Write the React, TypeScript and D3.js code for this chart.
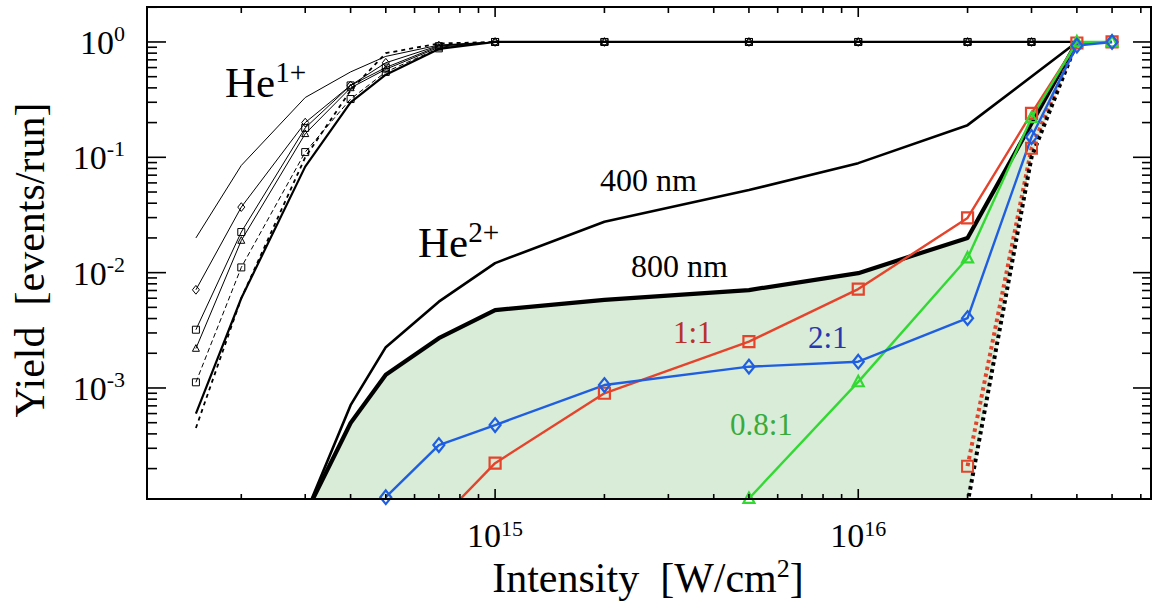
import React, { useRef, useEffect } from 'react';
import * as d3 from 'd3';

// intensity values [W/cm^2]
const he1X = [1.5e14, 2e14, 3e14, 4e14, 5e14, 7e14, 1e15, 2e15, 5e15, 1e16, 2e16, 3e16];
const he1Thin = [0.02, 0.085, 0.33, 0.55, 0.75, 0.94, 1, 1, 1, 1, 1, 1];
const he1Diamond = [0.0071, 0.037, 0.2, 0.42, 0.66, 0.93, 1, 1, 1, 1, 1, 1];
const he1Square = [0.0032, 0.0225, 0.18, 0.42, 0.6, 0.92, 1, 1, 1, 1, 1, 1];
const he1Triangle = [0.0022, 0.019, 0.16, 0.4, 0.58, 0.9, 1, 1, 1, 1, 1, 1];
const he1DashSquare = [0.00112, 0.0111, 0.111, 0.32, 0.55, 0.88, 1, 1, 1, 1, 1, 1];
const he1DashThick = [0.00045, 0.006, 0.1, 0.38, 0.8, 0.97, 1, 1, 1, 1, 1, 1];
const he1Thick = [0.0006, 0.006, 0.083, 0.3, 0.52, 0.87, 1, 1, 1, 1, 1, 1];

const he2X = [3e14, 4e14, 5e14, 7e14, 1e15, 2e15, 5e15, 1e16, 2e16, 4e16];
const nm400 = [8e-5, 7.1e-4, 2.26e-3, 5.6e-3, 0.0121, 0.0276, 0.052, 0.089, 0.19, 1];
const nm800 = [8e-5, 4.97e-4, 1.3e-3, 2.7e-3, 4.74e-3, 5.8e-3, 7.06e-3, 9.9e-3, 0.02, 1];

const dotX = [2e16, 3e16, 4e16];
const dotBlack = [1e-4, 0.1, 1];
const dotRed = [2.1e-4, 0.12, 1];

const ratioX = [5e14, 7e14, 1e15, 2e15, 5e15, 1e16, 2e16, 3e16, 4e16, 5e16];
const ratio11 = [null, 7e-5, 2.23e-4, 9.0e-4, 2.52e-3, 7.2e-3, 0.0298, 0.24, 0.98, 1.0];
const ratio21 = [1.13e-4, 3.2e-4, 4.77e-4, 1.06e-3, 1.53e-3, 1.69e-3, 4.03e-3, 0.15, 0.93, 1.0];
const ratio081 = [null, null, null, null, 1.1e-4, 1.13e-3, 0.0134, 0.22, 1.0, 1.0];

const xMajor = [1e15, 1e16];
const xMajorExp = ['15', '16'];
const yMajor = [1, 0.1, 0.01, 0.001];
const yMajorExp = ['0', '-1', '-2', '-3'];

const FONT = "'Liberation Serif', 'Times New Roman', serif";

const App = () => {
  const chartRef = useRef<SVGSVGElement>(null);

  useEffect(() => {
    const W = 1153;
    const H = 610;
    const margin = { top: 7, right: 2, bottom: 111, left: 147 };
    const width = W - margin.left - margin.right;
    const height = H - margin.top - margin.bottom;

    const root = d3.select(chartRef.current);
    root.selectAll('*').remove();
    const svg = root.append('g').attr('transform', `translate(${margin.left},${margin.top})`);

    const x = d3.scaleLog().domain([1.1e14, 6.4e16]).range([0, width]);
    const y = d3.scaleLog().domain([1.09e-4, 2.01]).range([height, 0]);

    svg.append('clipPath').attr('id', 'plotclip')
      .append('rect').attr('width', width).attr('height', height);
    const plot = svg.append('g').attr('clip-path', 'url(#plotclip)');

    const toPts = (xs: number[], ys: (number | null)[]) =>
      xs.map((v, i) => [v, ys[i]] as [number, number | null]).filter(d => d[1] != null) as [number, number][];

    const line = d3.line<[number, number]>().x(d => x(d[0])).y(d => y(d[1]));

    // green area between 800 nm curve and the dotted line
    const fillPts = toPts(he2X, nm800).concat(toPts(dotX, dotBlack).reverse());
    plot.append('path')
      .attr('d', line(fillPts) + 'Z')
      .attr('fill', '#d8ecd8')
      .attr('stroke', 'none');

    const markerPath = (type: string, s: number) => {
      if (type === 'square') return `M${-s},${-s}H${s}V${s}H${-s}Z`;
      if (type === 'diamond') return `M0,${-s * 1.25}L${s},0L0,${s * 1.25}L${-s},0Z`;
      if (type === 'triangle') return `M0,${-s * 1.1}L${s},${s * 0.8}L${-s},${s * 0.8}Z`;
      return '';
    };

    const drawSeries = (
      xs: number[], ys: (number | null)[], color: string, sw: number,
      dash: string | null, marker: string | null, ms: number, msw: number
    ) => {
      const pts = toPts(xs, ys);
      plot.append('path')
        .datum(pts)
        .attr('fill', 'none')
        .attr('stroke', color)
        .attr('stroke-width', sw)
        .attr('stroke-dasharray', dash)
        .attr('stroke-linejoin', 'round')
        .attr('d', line);
      if (marker) {
        svg.append('g').selectAll('path')
          .data(pts.filter(d => d[1] >= 1.05e-4))
          .join('path')
          .attr('transform', d => `translate(${x(d[0])},${y(d[1])})`)
          .attr('d', markerPath(marker, ms))
          .attr('fill', 'none')
          .attr('stroke', color)
          .attr('stroke-width', msw);
      }
    };

    // He1+ curves
    drawSeries(he1X, he1Thin, '#000', 1, null, null, 0, 0);
    drawSeries(he1X, he1Diamond, '#000', 1, null, 'diamond', 3.5, 1);
    drawSeries(he1X, he1Square, '#000', 1, null, 'square', 3.5, 1);
    drawSeries(he1X, he1Triangle, '#000', 1, null, 'triangle', 3.5, 1);
    drawSeries(he1X, he1DashSquare, '#000', 1, '5,3', 'square', 3.5, 1);
    drawSeries(he1X, he1DashThick, '#000', 1.8, '4,4', null, 0, 0);
    drawSeries(he1X.concat([4e16]), he1Thick.concat([1]), '#000', 2.2, null, null, 0, 0);

    // He2+ curves
    drawSeries(he2X, nm400, '#000', 2.6, null, null, 0, 0);
    drawSeries(he2X, nm800, '#000', 4.2, null, null, 0, 0);

    // dotted lines
    drawSeries(dotX, dotRed, '#e0442c', 4, '3.5,3.5', null, 0, 0);
    drawSeries(dotX, dotBlack, '#000', 4, '3.5,3.5', null, 0, 0);
    const redDotMarks = toPts(dotX, dotRed).slice(0, 2);
    svg.append('g').selectAll('path')
      .data(redDotMarks)
      .join('path')
      .attr('transform', d => `translate(${x(d[0])},${y(d[1])})`)
      .attr('d', markerPath('square', 5.5))
      .attr('fill', 'none')
      .attr('stroke', '#e0442c')
      .attr('stroke-width', 2);

    // ratio series
    drawSeries(ratioX, ratio11, '#e5432b', 2.4, null, 'square', 5.5, 2.2);
    drawSeries(ratioX, ratio081, '#33d933', 2.4, null, 'triangle', 5.5, 2.2);
    drawSeries(ratioX, ratio21, '#1f5ee0', 2.4, null, 'diamond', 5.5, 2.2);

    // frame
    svg.append('rect')
      .attr('width', width).attr('height', height)
      .attr('fill', 'none').attr('stroke', '#000').attr('stroke-width', 2);

    // ticks
    const xMinor: number[] = [];
    [1e14, 1e15, 1e16].forEach(d => { for (let k = 2; k <= 9; k++) xMinor.push(d * k); });
    const xTicks = xMinor.filter(v => v >= 1.1e14 && v <= 6.4e16).map(v => ({ v, major: false }))
      .concat(xMajor.map(v => ({ v, major: true })));
    const yMinor: number[] = [];
    [1e-4, 1e-3, 1e-2, 1e-1, 1].forEach(d => { for (let k = 2; k <= 9; k++) yMinor.push(d * k); });
    const yTicks = yMinor.filter(v => v >= 1.09e-4 && v <= 2.01).map(v => ({ v, major: false }))
      .concat(yMajor.map(v => ({ v, major: true })));

    const tg = svg.append('g').attr('stroke', '#000').attr('stroke-width', 1.6);
    xTicks.forEach(t => {
      const px = x(t.v);
      tg.append('line').attr('x1', px).attr('x2', px).attr('y1', height).attr('y2', height - (t.major ? 10 : 5));
      tg.append('line').attr('x1', px).attr('x2', px).attr('y1', 0).attr('y2', t.major ? 10 : 6);
    });
    yTicks.forEach(t => {
      const py = y(t.v);
      tg.append('line').attr('x1', 0).attr('x2', t.major ? 19 : 10).attr('y1', py).attr('y2', py);
      tg.append('line').attr('x1', width).attr('x2', width - (t.major ? 18 : 9)).attr('y1', py).attr('y2', py);
    });

    // tick labels
    xMajor.forEach((v, i) => {
      const t = svg.append('text')
        .attr('x', x(v)).attr('y', height + 48)
        .attr('text-anchor', 'middle')
        .attr('font-family', FONT).attr('font-size', 34);
      t.append('tspan').text('10');
      t.append('tspan').attr('dy', -11).attr('font-size', 22).text(xMajorExp[i]);
    });
    yMajor.forEach((v, i) => {
      const t = svg.append('text')
        .attr('x', -22).attr('y', y(v) + 12)
        .attr('text-anchor', 'end')
        .attr('font-family', FONT).attr('font-size', 34);
      t.append('tspan').text('10');
      t.append('tspan').attr('dy', -13).attr('font-size', 22).text(yMajorExp[i]);
    });

    // axis titles
    svg.append('text')
      .attr('transform', `translate(${-103},${253}) rotate(-90)`)
      .attr('text-anchor', 'middle')
      .attr('font-family', FONT).attr('font-size', 42)
      .style('white-space', 'pre')
      .text('Yield  [events/run]');
    const xt = svg.append('text')
      .attr('x', 648 - margin.left).attr('y', height + 93)
      .attr('text-anchor', 'middle')
      .attr('font-family', FONT).attr('font-size', 42)
      .style('white-space', 'pre');
    xt.append('tspan').text('Intensity  [W/cm');
    xt.append('tspan').attr('dy', -15).attr('font-size', 26).text('2');
    xt.append('tspan').attr('dy', 15).text(']');

    // annotations
    const label = (px: number, py: number, main: string, sup: string | null, size: number, color: string) => {
      const t = svg.append('text')
        .attr('x', px - margin.left).attr('y', py - margin.top)
        .attr('font-family', FONT).attr('font-size', size).attr('fill', color);
      t.append('tspan').text(main);
      if (sup) t.append('tspan').attr('dy', -size * 0.36).attr('font-size', size * 0.68).text(sup);
    };
    label(225, 97, 'He', '1+', 43, '#000');
    label(418, 257, 'He', '2+', 43, '#000');
    label(600, 191, '400 nm', null, 32, '#000');
    label(631, 277, '800 nm', null, 32, '#000');
    label(673, 343, '1:1', null, 31, '#b8322a');
    label(808, 348, '2:1', null, 31, '#2638b0');
    label(730, 435, '0.8:1', null, 31, '#3aaa3a');
  }, []);

  return (
    <svg ref={chartRef} width={1153} height={610}
      style={{ position: 'absolute', left: 0, top: 0, background: '#fff' }}></svg>
  );
};

export default App;
